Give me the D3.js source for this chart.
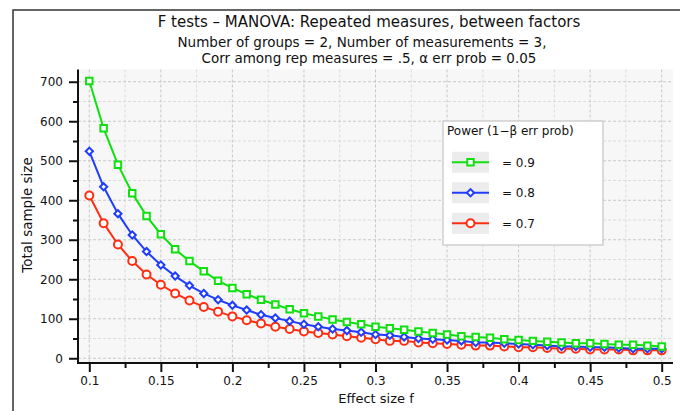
<!DOCTYPE html>
<html><head><meta charset="utf-8">
<script src="https://cdn.jsdelivr.net/npm/d3@7"></script>
<style>
html,body{margin:0;padding:0;background:#fff;}
svg{display:block;font-family:"DejaVu Sans",Verdana,sans-serif;}
</style></head>
<body>
<svg id="chart" width="680" height="411"></svg>
<script>
const effectSize = [0.10,0.11,0.12,0.13,0.14,0.15,0.16,0.17,0.18,0.19,0.20,0.21,0.22,0.23,0.24,0.25,0.26,0.27,0.28,0.29,0.30,0.31,0.32,0.33,0.34,0.35,0.36,0.37,0.38,0.39,0.40,0.41,0.42,0.43,0.44,0.45,0.46,0.47,0.48,0.49,0.50];
const power09 = [702,582,490,418,360,314,276,246,220,196,178,162,148,136,124,114,106,98,92,86,80,76,72,68,64,60,56,54,52,48,46,44,42,40,38,38,36,34,34,32,30];
const power08 = [524,434,366,312,270,236,208,184,164,148,134,122,110,102,94,86,80,74,70,66,60,58,54,50,48,46,44,40,40,38,36,34,32,30,30,28,28,26,24,24,24];
const power07 = [412,342,288,246,212,186,164,146,130,118,106,96,88,80,74,68,64,60,56,52,48,44,44,40,38,36,34,32,32,30,28,28,26,24,24,22,22,22,20,20,20];
const seriesNames = ["= 0.9","= 0.8","= 0.7"];
const xTicks = [0.1,0.15,0.2,0.25,0.3,0.35,0.4,0.45,0.5];
const xMinorTicks = [0.125,0.175,0.225,0.275,0.325,0.375,0.425,0.475];
const yTicks = [0,100,200,300,400,500,600,700];
const yMinorTicks = [50,150,250,350,450,550,650];
const titleLines = ["F tests \u2013 MANOVA: Repeated measures, between factors",
  "Number of groups = 2, Number of measurements = 3,",
  "Corr among rep measures = .5, \u03b1 err prob = 0.05"];
const legendTitle = "Power (1\u2212\u03b2 err prob)";
const xTitle = "Effect size f";
const yTitle = "Total sample size";

const svg = d3.select("#chart");
const L = 78, R = 673, T = 69.5, B = 363;
const x = d3.scaleLinear().domain([0.0921, 0.5079]).range([L, R]);
const y = d3.scaleLinear().domain([-12, 731]).range([B, T]);

// frame
svg.append("path").attr("d","M13,411 L13,10 L680,10").attr("fill","none").attr("stroke","#333").attr("stroke-width",1.5);

// plot background
svg.append("rect").attr("x",L).attr("y",T).attr("width",R-L).attr("height",B-T).attr("fill","#f7f7f7");

// grid
const g = svg.append("g");
g.selectAll(".vmin").data(xMinorTicks).join("line")
  .attr("x1",d=>x(d)).attr("x2",d=>x(d)).attr("y1",T).attr("y2",B)
  .attr("stroke","#dcdcdc").attr("stroke-dasharray","3,2");
g.selectAll(".hmin").data(yMinorTicks).join("line")
  .attr("y1",d=>y(d)).attr("y2",d=>y(d)).attr("x1",L).attr("x2",R)
  .attr("stroke","#dcdcdc").attr("stroke-dasharray","3,2");
g.selectAll(".vmaj").data(xTicks).join("line")
  .attr("x1",d=>x(d)).attr("x2",d=>x(d)).attr("y1",T).attr("y2",B)
  .attr("stroke","#c8c8c8").attr("stroke-dasharray","3,2");
g.selectAll(".hmaj").data(yTicks).join("line")
  .attr("y1",d=>y(d)).attr("y2",d=>y(d)).attr("x1",L).attr("x2",R)
  .attr("stroke","#c8c8c8").attr("stroke-dasharray","3,2");

// axes
const xAxis = d3.axisBottom(x).tickValues(xTicks).tickSize(9).tickPadding(4).tickFormat(d3.format("~g"));
const xAxisMinor = d3.axisBottom(x).tickValues(xMinorTicks).tickSize(5).tickFormat("");
const yAxis = d3.axisLeft(y).tickValues(yTicks).tickSize(9).tickPadding(6).tickFormat(d3.format("d"));
const yAxisMinor = d3.axisLeft(y).tickValues(yMinorTicks).tickSize(5).tickFormat("");

function styleAxis(sel){
  sel.select(".domain").remove();
  sel.selectAll("line").attr("stroke","#111").attr("stroke-width",2);
  sel.selectAll("text").attr("fill","#111").style("font-size","12px").style("font-family","DejaVu Sans, sans-serif");
}
svg.append("g").attr("transform",`translate(0,${B})`).call(xAxisMinor).call(styleAxis);
svg.append("g").attr("transform",`translate(0,${B})`).call(xAxis).call(styleAxis);
svg.append("g").attr("transform",`translate(${L},0)`).call(yAxisMinor).call(styleAxis);
svg.append("g").attr("transform",`translate(${L},0)`).call(yAxis).call(styleAxis);
svg.append("line").attr("x1",L).attr("x2",L).attr("y1",T).attr("y2",B+1).attr("stroke","#111").attr("stroke-width",2);
svg.append("line").attr("x1",L-1).attr("x2",R).attr("y1",B).attr("y2",B).attr("stroke","#111").attr("stroke-width",2);

// series
const colors = ["#10e010","#1f3cff","#ff2e12"];
const seriesValues = [power09, power08, power07];
const shapes = [d3.symbolSquare, d3.symbolSquare, d3.symbolCircle];
const rotations = [0, 45, 0];
const sizes = [42, 26, 50];
const line = d3.line().x(d=>x(d[0])).y(d=>y(d[1]));
const order = [2,1,0];
order.forEach(i=>{
  const pts = effectSize.map((e,k)=>[e, seriesValues[i][k]]);
  svg.append("path").datum(pts).attr("d",line).attr("fill","none").attr("stroke",colors[i]).attr("stroke-width",2);
  svg.append("g").selectAll("path").data(pts).join("path")
    .attr("transform",d=>`translate(${x(d[0])},${y(d[1])}) rotate(${rotations[i]})`)
    .attr("d",d3.symbol().type(shapes[i]).size(sizes[i]))
    .attr("fill","#fff").attr("stroke",colors[i]).attr("stroke-width",2);
});

// titles
const tcx = 369;
svg.append("text").attr("x",tcx).attr("y",27).attr("text-anchor","middle").style("font-size","15px").attr("fill","#111").text(titleLines[0]);
svg.append("text").attr("x",362).attr("y",47).attr("text-anchor","middle").style("font-size","13.5px").attr("fill","#111").text(titleLines[1]);
svg.append("text").attr("x",tcx).attr("y",63).attr("text-anchor","middle").style("font-size","13.5px").attr("fill","#111").text(titleLines[2]);

svg.append("text").attr("x",376).attr("y",403).attr("text-anchor","middle").style("font-size","13px").attr("fill","#111").text(xTitle);
svg.append("text").attr("transform","translate(31.5,215) rotate(-90)").attr("text-anchor","middle").style("font-size","13.5px").attr("fill","#111").text(yTitle);

// legend
const lg = svg.append("g");
lg.append("rect").attr("x",443).attr("y",121).attr("width",160).attr("height",124).attr("fill","#fff").attr("stroke","#cfcfcf").attr("stroke-width",1.5);
lg.append("text").attr("x",447).attr("y",135).style("font-size","12px").attr("fill","#111").text(legendTitle);
const legY = d3.scalePoint().domain(seriesNames).range([162.3, 223.3]);
seriesNames.forEach((n,i)=>{
  const cy = legY(n);
  lg.append("rect").attr("x",452).attr("y",cy-10.5).attr("width",37).attr("height",21).attr("fill","#ececec");
  lg.append("line").attr("x1",452).attr("x2",489).attr("y1",cy).attr("y2",cy).attr("stroke",colors[i]).attr("stroke-width",2);
  lg.append("path").attr("transform",`translate(470.5,${cy}) rotate(${rotations[i]})`).attr("d",d3.symbol().type(shapes[i]).size(sizes[i])).attr("fill","#fff").attr("stroke",colors[i]).attr("stroke-width",2);
  lg.append("text").attr("x",502).attr("y",cy+4.5).style("font-size","12px").attr("fill","#111").text(n);
});
</script>
</body></html>
